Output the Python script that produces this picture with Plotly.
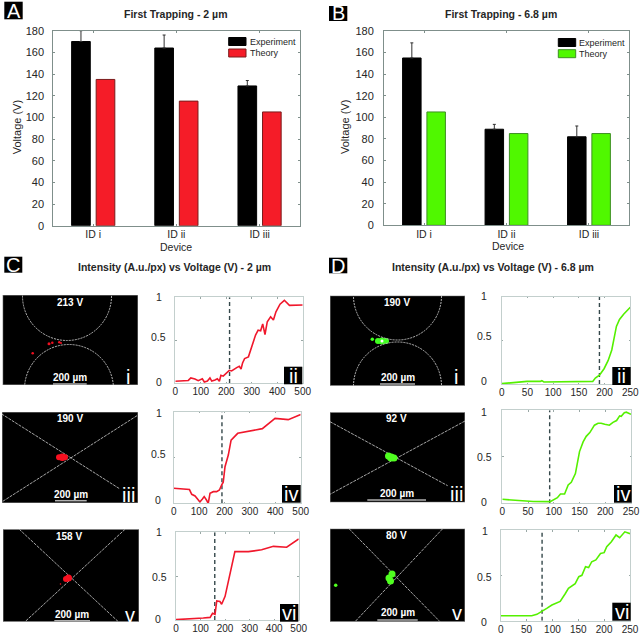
import plotly.graph_objects as go

W, H = 640, 634

# ---------- data ----------
devices = ["ID i", "ID ii", "ID iii"]
exp_2 = [170, 164, 129]
err_2 = [10, 12, 5]
theory_2 = [135, 115, 105]
exp_68 = [155, 89, 82]
err_68 = [14, 4.5, 10]
theory_68 = [105, 85, 85]

c2_v = [0,51,61,77,90,106,114,126,136,143,156,165,173,179,188,195,204,212,221,228,241,251,258,264,272,287,297,306,315,325,335,343,352,361,374,385,395,411,428,448,500]
c2_i = [.02,.03,.06,.047,.027,.05,.012,.023,.059,.023,.035,.05,.02,.09,.08,.1,.117,.148,.14,.156,.18,.195,.164,.234,.285,.305,.39,.48,.56,.617,.61,.69,.566,.715,.773,.734,.83,.92,.965,.906,.91]
c4_v = [0,62,71,84,97,103,113,120,129,136,143,156,169,180,189,195,202,215,226,252,349,399,451,500]
c4_i = [.164,.15,.098,.08,.036,.015,.047,.073,.036,0,.11,.127,.127,.145,.2,.23,.4,.527,.69,.764,.815,.927,.913,.97]
c6_v = [0,71,111,139,149,159,166,179,186,200,213,227,240,295,349,397,451,500]
c6_i = [.004,.011,.023,.03,.076,.065,.217,.21,.18,.27,.44,.59,.78,.78,.80,.84,.83,.925]
d2_v = [0,23,49,75,78,82,107,140,177,182,190,199,207,214,219,223,229,237,250]
d2_i = [.004,.02,.03,.03,.038,.023,.023,.027,.03,.068,.1,.175,.27,.39,.545,.66,.74,.80,.88]
d4_v = [0,28,60,93,99,107,113,121,128,134,142,147,150,157,163,170,179,186,192,199,208,215,222,228,231,237,241,250]
d4_i = [.043,.032,.02,.018,.04,.06,.10,.10,.197,.226,.32,.45,.556,.66,.72,.76,.84,.86,.86,.85,.84,.87,.89,.94,.935,.975,.98,.957]
d6_v = [0,31,60,70,81,89,99,115,125,131,144,151,157,164,170,176,184,193,200,205,214,218,223,230,240,250]
d6_i = [.055,.055,.055,.07,.114,.136,.173,.213,.30,.357,.408,.485,.50,.595,.585,.65,.67,.74,.75,.816,.87,.908,.945,.915,.98,.96]
trap_c = [213, 190, 158]
trap_d = [190, 92, 80]

RED, GREEN = "#f0182c", "#55f000"
REDBAR, GREENBAR = "#f51c28", "#50f800"
TXT = "#262626"
F = "Liberation Sans"

fig = go.Figure()
ann, shapes = [], []
layout = {}
counter = [0]


def X(p):
    return p / W


def Y(p):
    return 1 - p / H


def new_axes(x0, x1, y0, y1):
    counter[0] += 1
    n = counter[0]
    s = "" if n == 1 else str(n)
    return n, s, [X(x0), X(x1)], [Y(y1), Y(y0)]


def text(x, y, t, size=10, color=TXT, bold=False, **kw):
    ann.append(dict(xref="paper", yref="paper", x=X(x), y=Y(y), text=f"<b>{t}</b>" if bold else t,
                    showarrow=False, xanchor="center", yanchor="middle",
                    font=dict(family=F, size=size, color=color), borderpad=0, **kw))


def box_label(x0, x1, y0, y1, t, size=20):
    shapes.append(dict(type="rect", xref="paper", yref="paper", x0=X(x0), x1=X(x1), y0=Y(y0), y1=Y(y1),
                       fillcolor="black", line_width=0, layer="above"))
    text((x0 + x1) / 2, (y0 + y1) / 2, t, size=size, color="white")


def bar_panel(x0, x1, y0, y1, xr, exp, err, th, color, edge, standoff):
    n, s, dx, dy = new_axes(x0, x1, y0, y1)
    fig.add_trace(go.Bar(x=devices, y=exp, name="Experiment", xaxis=f"x{s}", yaxis=f"y{s}", showlegend=False,
                         marker=dict(color="black", line=dict(color="black", width=1)),
                         error_y=dict(type="data", symmetric=False, array=err, arrayminus=[0, 0, 0],
                                      color="#303030", thickness=1, width=1.5)))
    fig.add_trace(go.Bar(x=devices, y=th, name="Theory", xaxis=f"x{s}", yaxis=f"y{s}", showlegend=False,
                         marker=dict(color=color, line=dict(color=edge, width=1))))
    layout[f"xaxis{s}"] = dict(domain=dx, anchor=f"y{s}", type="category", range=xr, showline=True, mirror="ticks",
                               automargin=False, ticklabelstandoff=-1,
                               linecolor="#7f8f8b", linewidth=1, ticks="inside", ticklen=2, tickcolor="#7f8f8b",
                               showgrid=False, zeroline=False, tickfont=dict(family=F, size=10.5, color=TXT))
    layout[f"yaxis{s}"] = dict(domain=dy, anchor=f"x{s}", range=[0, 180], dtick=20, showline=True, mirror="ticks",
                               automargin=False,
                               linecolor="#7f8f8b", linewidth=1, ticks="inside", ticklen=2, tickcolor="#7f8f8b",
                               showgrid=False, zeroline=False, tickfont=dict(family=F, size=11, color=TXT),
                               ticklabelstandoff=standoff)


def legend(x0, x1, ytop, ybot, h, color, edge, tx):
    for yy, c, e, lab in [(ytop, "black", "black", "Experiment"), (ybot, color, edge, "Theory")]:
        shapes.append(dict(type="rect", xref="paper", yref="paper", x0=X(x0), x1=X(x1), y0=Y(yy), y1=Y(yy + h),
                           fillcolor=c, line=dict(color=e, width=1), layer="above"))
        ann.append(dict(xref="paper", yref="paper", x=X(tx), y=Y(yy + h / 2), text=lab, showarrow=False,
                        xanchor="left", yanchor="middle", font=dict(family=F, size=9, color=TXT)))


def line_panel(x0, x1, y0, y1, xs, ys, vline, color, xmax, dtick, ylab, lab, lbox):
    n, s, dx, dy = new_axes(x0, x1, y0, y1)
    fig.add_trace(go.Scatter(x=[vline, vline], y=[0, 1], mode="lines", xaxis=f"x{s}", yaxis=f"y{s}", showlegend=False,
                             line=dict(color="#34474a", width=1.4, dash="4px,3px")))
    fig.add_trace(go.Scatter(x=xs, y=ys, mode="lines", xaxis=f"x{s}", yaxis=f"y{s}", showlegend=False,
                             line=dict(color=color, width=1.6)))
    layout[f"xaxis{s}"] = dict(domain=dx, anchor=f"y{s}", range=[0, xmax], dtick=dtick, tick0=0, showline=True,
                               automargin=False, ticklabelstandoff=-1,
                               mirror="ticks", linecolor="#c3cfcd", linewidth=1, ticks="inside", ticklen=1.5,
                               tickcolor="#9aa8a6", showgrid=False, zeroline=False,
                               tickfont=dict(family=F, size=10, color=TXT))
    layout[f"yaxis{s}"] = dict(domain=dy, anchor=f"x{s}", range=[0, 1], tickvals=[0, .5, 1], showline=True,
                               automargin=False,
                               mirror="ticks", linecolor="#c3cfcd", linewidth=1, ticks="inside", ticklen=1.5,
                               tickcolor="#9aa8a6", showgrid=False, zeroline=False, showticklabels=False)
    for (lx, ly), t in zip(ylab, ["1", "0.5", "0"]):
        text(lx, ly, t, size=10.5)
    box_label(*lbox, lab)


def image_panel(x0, x1, y0, y1, volts, vpos, sb_text, sb_y, bar, bar_y, lines, circles, blobs, color, lab, labpos):
    n, s, dx, dy = new_axes(x0, x1, y0, y1)
    layout[f"xaxis{s}"] = dict(domain=dx, anchor=f"y{s}", range=[x0, x1], visible=False, automargin=False)
    layout[f"yaxis{s}"] = dict(domain=dy, anchor=f"x{s}", range=[y1, y0], visible=False, automargin=False)
    shapes.append(dict(type="rect", xref=f"x{s}", yref=f"y{s}", x0=x0, x1=x1, y0=y0, y1=y1, fillcolor="black",
                       line=dict(color="#8a8a8a", width=1), layer="below"))
    for lx, ly in lines:
        fig.add_trace(go.Scatter(x=lx, y=ly, mode="lines", xaxis=f"x{s}", yaxis=f"y{s}", showlegend=False,
                                 line=dict(color="#b8b8b8", width=0.9, dash="3px,1px")))
    for cx, cy, r in circles:
        shapes.append(dict(type="circle", xref=f"x{s}", yref=f"y{s}", x0=cx - r, x1=cx + r, y0=cy - r, y1=cy + r,
                           line=dict(color="#b8b8b8", width=1, dash="2px,1px"), layer="above"))
    bx, by, bs, bc = blobs
    fig.add_trace(go.Scatter(x=bx, y=by, mode="markers", xaxis=f"x{s}", yaxis=f"y{s}", showlegend=False,
                             marker=dict(color=bc, size=bs, line_width=0, opacity=1)))
    fig.add_trace(go.Scatter(x=bar, y=[bar_y, bar_y], mode="lines", xaxis=f"x{s}", yaxis=f"y{s}", showlegend=False,
                             line=dict(color="#b0b0b0", width=1.5)))
    text(vpos[0], vpos[1], volts, size=10, color="white", bold=True)
    text(sb_text, sb_y, "200 µm", size=10, color="white", bold=True)
    text(labpos[0], labpos[1], lab, size=20, color="white")


# ---------- panels ----------
bar_panel(53.3, 300, 30.7, 225.7, [-0.48, 2.486], exp_2, err_2, theory_2, REDBAR, "#7a1c1c", 6)
bar_panel(384, 629.3, 31, 225.3, [-0.485, 2.489], exp_68, err_68, theory_68, GREENBAR, "#3d8f22", 7)
legend(228.7, 246, 37.5, 49, 8, REDBAR, "#7a1c1c", 247.5)
legend(558.3, 575.7, 38.5, 49.7, 8, GREENBAR, "#3d8f22", 577)
text(176, 246.5, "Device", size=10.5)
text(508, 246, "Device", size=10.5)
text(17.3, 127, "Voltage (V)", size=11, textangle=-90)
text(345, 127, "Voltage (V)", size=11, textangle=-90)

line_panel(175.3, 302.7, 297.3, 383, c2_v, c2_i, trap_c[0], RED, 500, 100,
           [(158.7, 297.3), (158, 336.7), (158.7, 382)], "ii", (284, 302.3, 366.7, 384.3))
line_panel(173.7, 300.7, 411.7, 503.3, c4_v, c4_i, trap_c[1], RED, 500, 100,
           [(158.7, 413.3), (158.3, 454.3), (157.7, 500)], "iv", (282, 300.7, 485, 502.7))
line_panel(176, 298.7, 532.3, 620, c6_v, c6_i, trap_c[2], RED, 500, 100,
           [(159, 532.3), (159, 577), (158.3, 619)], "vi", (280, 298.3, 604, 621.7))
line_panel(501.7, 630.3, 296.7, 384, d2_v, d2_i, trap_d[0], GREEN, 250, 50,
           [(484, 295.7), (484, 336), (484, 381)], "ii", (612.3, 630.7, 367, 385))
line_panel(502.3, 631, 410.3, 503.3, d4_v, d4_i, trap_d[1], GREEN, 250, 50,
           [(484.3, 411.7), (484, 457.3), (484, 502.3)], "iv", (614, 631.7, 485, 502.7))
line_panel(500.7, 630, 530, 620.7, d6_v, d6_i, trap_d[2], GREEN, 250, 50,
           [(485, 531), (484.3, 576.7), (484.3, 621.7)], "vi", (612.3, 630.7, 602.7, 620.7))

# left images
image_panel(2.7, 138, 295, 385, "213 V", (70, 302.7), 70, 377.3, [53, 86.7], 384, [],
            [(67, 296, 44.5), (69, 389, 44.5)],
            ([49, 52.3, 59.3, 61, 32.7], [343.7, 342.7, 342.3, 343, 353.3], [3, 2.5, 2.5, 2, 2.5], "#f01020"),
            RED, "i", (127.7, 377))
image_panel(2, 138, 412, 503, "190 V", (70, 418.7), 70.7, 494.3, [55, 86.7], 500.7,
            [([1.7, 120], [414, 489]), ([137, 1.7], [415.7, 502])], [],
            ([59, 62.3, 65], [457.3, 457.3, 457.3], [6, 7.5, 6], "#f81020"),
            RED, "iii", (128, 495))
image_panel(3, 139, 529.3, 621.7, "158 V", (69.3, 536), 72, 614.3, [54.3, 90], 620.7,
            [([19.3, 118.3], [529.3, 621.7]), ([125, 25], [529.3, 621.7])], [],
            ([66, 68.5, 60.5], [579, 578, 584], [6, 7, 1.5], "#f81020"),
            RED, "v", (130, 615))
# right images
image_panel(330, 465, 295.7, 385.7, "190 V", (397.3, 302.7), 398.3, 377.3, [380, 415], 384, [],
            [(397.5, 296, 44), (397.5, 386, 44)],
            ([372.3, 378, 382, 386, 382], [339.3, 341, 341, 341, 341], [3.5, 6, 7, 6, 3], ["#40ff20"] * 4 + ["white"]),
            GREEN, "i", (455.5, 377))
image_panel(330, 465, 412.3, 502.3, "92 V", (396.7, 418.7), 397.3, 493.3, [367.3, 426], 500,
            [([330, 447.7], [421.7, 485.7]), ([465, 330], [421, 494.3])], [],
            ([388.5, 391, 394], [456, 457.5, 458], [7, 8, 7], "#50ff20"),
            GREEN, "iii", (456, 494))
image_panel(330, 465, 528.7, 621.7, "80 V", (396.3, 535.3), 398, 612.7, [377.3, 417.7], 620,
            [([349, 440], [528.7, 621.7]), ([442.7, 355], [528.7, 621.7])], [],
            ([335.7, 392, 389, 390.5], [585.3, 574, 578, 581], [3.5, 7, 7, 7], "#50ff20"),
            GREEN, "v", (456.5, 613))

# titles & panel letters
text(175, 14, "First Trapping - 2 µm", size=10.5, bold=True)
text(501, 14, "First Trapping - 6.8 µm", size=10.5, bold=True)
text(174.3, 266.7, "Intensity (A.u./px) vs Voltage (V) - 2 µm", size=10.5, bold=True)
text(493.3, 267.3, "Intensity (A.u./px) vs Voltage (V) - 6.8 µm", size=10.5, bold=True)
box_label(4.3, 22.7, 1.7, 19.3, "A")
box_label(329, 347.3, 6, 21, "B")
box_label(4.3, 22.3, 256.7, 272.7, "C")
box_label(329, 347.3, 257.7, 273.3, "D")

fig.update_layout(width=W, height=H, autosize=False, margin=dict(l=0, r=0, t=0, b=0, pad=0),
                  paper_bgcolor="white", plot_bgcolor="rgba(0,0,0,0)", showlegend=False,
                  barmode="group", bargap=0.41, bargroupgap=0.24, annotations=ann, shapes=shapes, **layout)

fig.write_html("out.html", config={"displayModeBar": False},
               post_script="document.body.style.margin='0';document.body.style.overflow='hidden';")
